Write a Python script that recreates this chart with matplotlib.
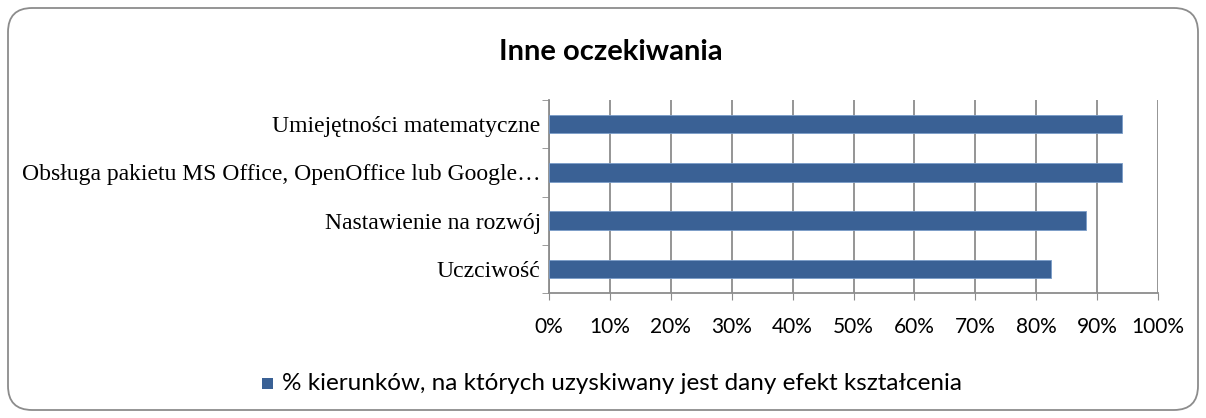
import numpy as np
import matplotlib
matplotlib.use("Agg")
import matplotlib.pyplot as plt
from matplotlib.patches import FancyBboxPatch, Rectangle

# Data (top to bottom as shown)
categories = [
    "Umiejętności matematyczne",
    "Obsługa pakietu MS Office, OpenOffice lub Google…",
    "Nastawienie na rozwój",
    "Uczciwość",
]
values = [94.1, 94.1, 88.2, 82.4]
xticks = list(range(0, 101, 10))
title = "Inne oczekiwania"
legend_label = "% kierunków, na których uzyskiwany jest dany efekt kształcenia"

bar_color = "#3A6195"
grid_color = "#8C8C8C"
sans = ["Lato", "DejaVu Sans"]
serif = ["Liberation Serif", "DejaVu Serif"]

fig = plt.figure(figsize=(12.06, 4.18), dpi=100)
ax = fig.add_axes([549 / 1206, 1 - 293 / 418, (1158 - 549) / 1206, (293 - 100) / 418])

# Rounded frame around the whole chart
frame = FancyBboxPatch((8 / 1206, 8 / 418), 1190 / 1206, 402 / 418,
                       boxstyle="round,pad=0,rounding_size=0.02",
                       transform=fig.transFigure, facecolor="none",
                       edgecolor=grid_color, linewidth=1.3, mutation_aspect=1206 / 418)
fig.patches.append(frame)

y = np.arange(len(categories))[::-1]
ax.barh(y, values, height=0.38, color=bar_color, edgecolor="#7A9CC8",
        linewidth=0.6, zorder=3)

ax.set_xlim(0, 100)
ax.set_ylim(-0.5, len(categories) - 0.5)
ax.set_xticks(xticks)
ax.set_xticklabels([f"{t}%" for t in xticks], fontsize=15, family=sans)
ax.set_yticks(y)
ax.set_yticklabels(categories, fontsize=17, family=serif)
ax.set_yticks(np.arange(-0.5, len(categories)), minor=True)
ax.tick_params(axis="y", which="major", length=0, pad=6)
ax.tick_params(axis="y", which="minor", length=5, color=grid_color, direction="out")
ax.tick_params(axis="x", length=5, color=grid_color, direction="out", pad=12)

ax.grid(axis="x", color=grid_color, linewidth=1.3, zorder=0)
for side in ["top", "right"]:
    ax.spines[side].set_visible(False)
for side in ["left", "bottom"]:
    ax.spines[side].set_color(grid_color)
    ax.spines[side].set_linewidth(1.3)

fig.text(611 / 1206, 1 - 52 / 418, title, ha="center", va="center",
         fontsize=21, fontweight="bold", family=sans)

# Legend
fig.patches.append(Rectangle((262 / 1206, 1 - 389 / 418), 11 / 1206, 11 / 418,
                             transform=fig.transFigure, facecolor=bar_color,
                             edgecolor="none"))
fig.text(282 / 1206, 1 - 383 / 418, legend_label, ha="left", va="center",
         fontsize=17.5, family=sans)

fig.savefig("out.png", dpi=100)
